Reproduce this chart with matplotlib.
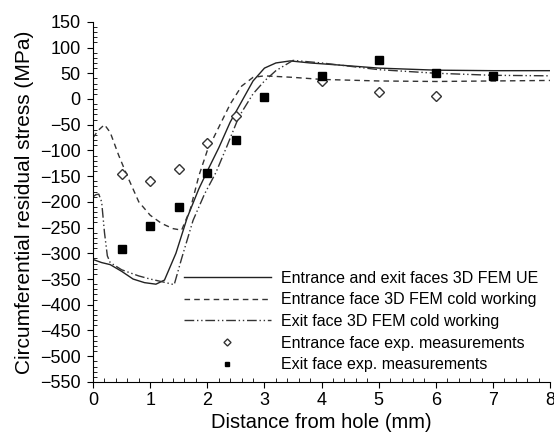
import numpy as np
import matplotlib.pyplot as plt
from matplotlib.ticker import MultipleLocator

plt.rcParams['font.family'] = ['Liberation Sans', 'DejaVu Sans']

# FEM curves
x_ue = [0.0, 0.15, 0.3, 0.5, 0.7, 0.9, 1.1, 1.25, 1.45, 1.65, 1.85, 2.0, 2.2, 2.4, 2.6, 2.8, 3.0, 3.2, 3.45, 3.8, 4.3, 5.0, 6.0, 7.0, 8.0]
y_ue = [-312, -318, -322, -335, -350, -357, -360, -352, -300, -230, -175, -140, -95, -45, -5, 35, 60, 70, 74, 70, 66, 60, 56, 55, 55]

x_en = [0.0, 0.1, 0.2, 0.3, 0.45, 0.6, 0.8, 1.0, 1.2, 1.4, 1.55, 1.7, 1.85, 2.0, 2.2, 2.4, 2.6, 2.8, 3.0, 3.5, 4.0, 5.0, 6.0, 7.0, 8.0]
y_en = [-75, -60, -50, -65, -110, -150, -200, -226, -242, -252, -255, -215, -150, -100, -55, -10, 25, 42, 45, 42, 38, 35, 34, 35, 36]

x_ex = [0.0, 0.05, 0.1, 0.15, 0.2, 0.25, 0.3, 0.5, 0.8, 1.0, 1.2, 1.42, 1.55, 1.75, 1.95, 2.15, 2.35, 2.55, 2.8, 3.0, 3.2, 3.5, 4.0, 5.0, 6.0, 7.0, 8.0]
y_ex = [-190, -186, -185, -200, -260, -305, -318, -332, -344, -350, -355, -361, -310, -236, -185, -143, -90, -35, 10, 35, 55, 75, 70, 57, 50, 46, 45]

# experimental measurements
x_meas_en = [0.5, 1.0, 1.5, 2.0, 2.5, 4.0, 5.0, 6.0]
y_meas_en = [-145, -160, -137, -85, -33, 34, 14, 5]
x_meas_ex = [0.5, 1.0, 1.5, 2.0, 2.5, 3.0, 4.0, 5.0, 6.0, 7.0]
y_meas_ex = [-292, -246, -210, -143, -80, 4, 45, 75, 50, 45]

fig = plt.figure(figsize=(5.54, 4.36), dpi=100)
ax = fig.add_axes([0.168, 0.124, 0.825, 0.826])

ax.plot(x_ue, y_ue, '-', color='#222222', lw=1.0, label='Entrance and exit faces 3D FEM UE')
ax.plot(x_en, y_en, '--', color='#333333', lw=1.0, dashes=(4, 3), label='Entrance face 3D FEM cold working')
ax.plot(x_ex, y_ex, color='#333333', lw=1.0, dashes=(7, 2, 1, 2, 1, 2), label='Exit face 3D FEM cold working')
ax.plot(x_meas_en, y_meas_en, 'D', ms=5.5, mfc='white', mec='#333333', mew=1.0, ls='none',
        label='Entrance face exp. measurements')
ax.plot(x_meas_ex, y_meas_ex, 's', ms=5.5, mfc='black', mec='black', ls='none',
        label='Exit face exp. measurements')

ax.set_xlim(0, 8)
ax.set_ylim(-550, 150)
ax.xaxis.set_major_locator(MultipleLocator(1))
ax.xaxis.set_minor_locator(MultipleLocator(0.2))
ax.yaxis.set_major_locator(MultipleLocator(50))
ax.yaxis.set_minor_locator(MultipleLocator(10))
ax.tick_params(which='major', direction='out', length=4, labelsize=13)
ax.tick_params(axis='y', which='major', pad=5)
ax.tick_params(axis='x', which='major', pad=3)
ax.tick_params(which='minor', direction='in', length=3)
ax.spines['top'].set_visible(False)
ax.spines['right'].set_visible(False)

ax.set_xlabel('Distance from hole (mm)', fontsize=14.5, labelpad=3)
ax.set_ylabel('Circumferential residual stress (MPa)', fontsize=15, labelpad=4)

ax.legend(loc='lower right', bbox_to_anchor=(0.995, 0.0), frameon=False, fontsize=11.5,
          handlelength=5.5, handletextpad=0.6, labelspacing=0.42, borderaxespad=0.2,
          markerscale=0.65)

fig.savefig('out.png', dpi=100)
